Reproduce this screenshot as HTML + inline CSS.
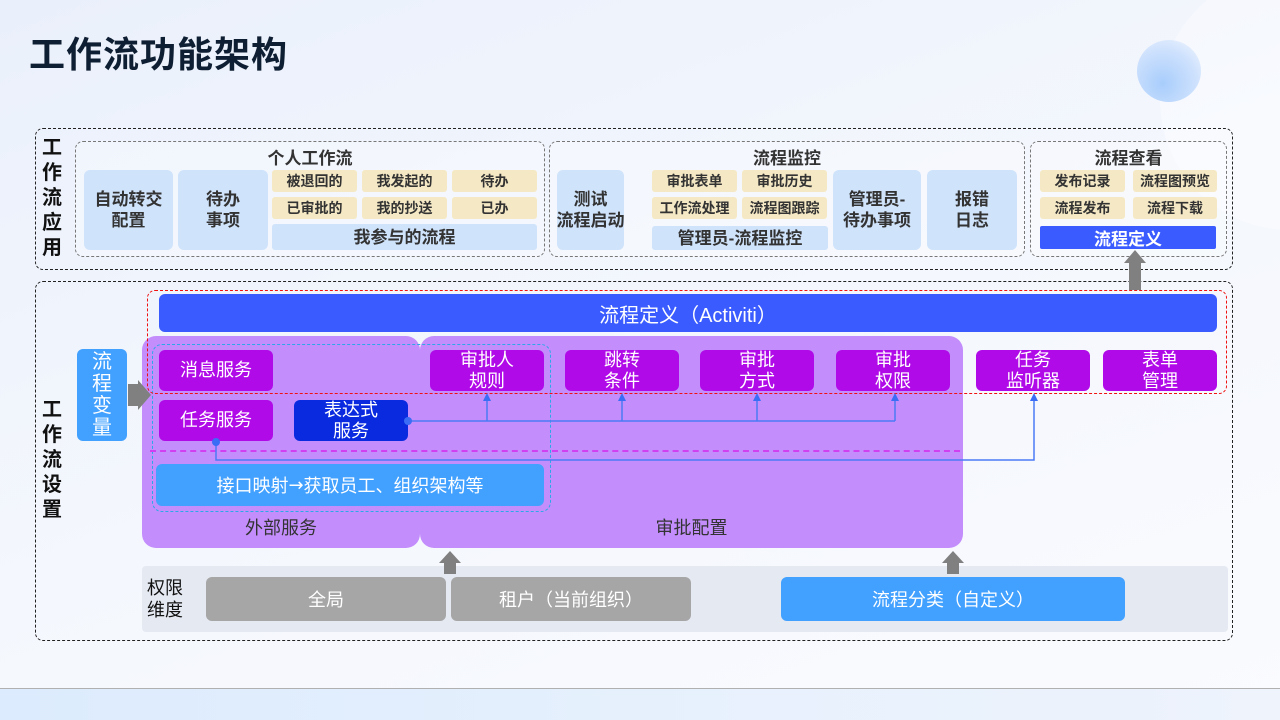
<!DOCTYPE html>
<html><head><meta charset="utf-8">
<style>
*{margin:0;padding:0;box-sizing:border-box}
body{width:1280px;height:720px;position:relative;overflow:hidden;font-family:"Liberation Sans","Noto Sans CJK SC",sans-serif;background:linear-gradient(160deg,#eaf0fb 0%,#f4f7fd 50%,#fafbfe 100%)}
.a{position:absolute}
.c{position:absolute;display:flex;align-items:center;justify-content:center;text-align:center;white-space:nowrap}
.lb{background:#cfe3fb;border-radius:6px;font-weight:bold;font-size:17px;color:#333;line-height:21px}
.y{background:#f5e9c5;border-radius:3px;font-size:14px;color:#333;font-weight:bold}
.g{border:1px dashed #777;border-radius:8px;background:rgba(255,255,255,0.25)}
.gt{position:absolute;font-weight:bold;font-size:17px;color:#333;text-align:center}
.p{background:#b10ae8;border-radius:6px;color:#fff;font-size:18px;line-height:21px}
</style></head><body>
<div class="a" style="left:1160px;top:-30px;width:260px;height:260px;border-radius:50%;background:rgba(255,255,255,0.35)"></div>
<div class="a" style="left:1137px;top:40px;width:64px;height:62px;border-radius:50%;background:radial-gradient(circle at 40% 70%,#a8cdfc,#cfe2fd 60%,rgba(220,234,253,0) 100%)"></div>
<div class="a" style="left:29px;top:26px;font-size:36px;font-weight:bold;color:#0f1f33;letter-spacing:1px">工作流功能架构</div>

<!-- top outer -->
<div class="a" style="left:35px;top:128px;width:1198px;height:142px;border:1px dashed #222;border-radius:8px"></div>
<div class="a" style="left:40px;top:136px;width:24px;font-size:20px;font-weight:bold;line-height:25px;text-align:center;color:#111">工作流应用</div>

<div class="a g" style="left:75px;top:141px;width:470px;height:116px"></div>
<div class="gt" style="left:75px;top:144px;width:470px">个人工作流</div>
<div class="c lb" style="left:84px;top:170px;width:89px;height:80px">自动转交<br>配置</div>
<div class="c lb" style="left:178px;top:170px;width:90px;height:80px">待办<br>事项</div>
<div class="c y" style="left:272px;top:170px;width:85px;height:22px">被退回的</div>
<div class="c y" style="left:362px;top:170px;width:85px;height:22px">我发起的</div>
<div class="c y" style="left:452px;top:170px;width:85px;height:22px">待办</div>
<div class="c y" style="left:272px;top:197px;width:85px;height:22px">已审批的</div>
<div class="c y" style="left:362px;top:197px;width:85px;height:22px">我的抄送</div>
<div class="c y" style="left:452px;top:197px;width:85px;height:22px">已办</div>
<div class="c lb" style="left:272px;top:224px;width:265px;height:26px;border-radius:3px">我参与的流程</div>

<div class="a g" style="left:549px;top:141px;width:476px;height:116px"></div>
<div class="gt" style="left:549px;top:144px;width:476px">流程监控</div>
<div class="c lb" style="left:557px;top:170px;width:67px;height:80px">测试<br>流程启动</div>
<div class="c y" style="left:652px;top:170px;width:85px;height:22px">审批表单</div>
<div class="c y" style="left:742px;top:170px;width:85px;height:22px">审批历史</div>
<div class="c y" style="left:652px;top:197px;width:85px;height:22px">工作流处理</div>
<div class="c y" style="left:742px;top:197px;width:85px;height:22px">流程图跟踪</div>
<div class="c lb" style="left:652px;top:226px;width:176px;height:24px;border-radius:3px">管理员-流程监控</div>
<div class="c lb" style="left:833px;top:170px;width:88px;height:80px">管理员-<br>待办事项</div>
<div class="c lb" style="left:927px;top:170px;width:90px;height:80px">报错<br>日志</div>

<div class="a g" style="left:1030px;top:141px;width:197px;height:116px"></div>
<div class="gt" style="left:1030px;top:144px;width:197px">流程查看</div>
<div class="c y" style="left:1040px;top:170px;width:85px;height:22px">发布记录</div>
<div class="c y" style="left:1133px;top:170px;width:84px;height:22px">流程图预览</div>
<div class="c y" style="left:1040px;top:197px;width:85px;height:22px">流程发布</div>
<div class="c y" style="left:1133px;top:197px;width:84px;height:22px">流程下载</div>
<div class="c" style="left:1040px;top:226px;width:176px;height:23px;background:#3a5bff;color:#fff;font-weight:bold;font-size:17px;border-radius:2px">流程定义</div>

<!-- bottom outer -->
<div class="a" style="left:35px;top:281px;width:1198px;height:360px;border:1px dashed #222;border-radius:8px"></div>
<div class="a" style="left:40px;top:398px;width:24px;font-size:20px;font-weight:bold;line-height:25px;text-align:center;color:#111">工作流设置</div>

<div class="c" style="left:159px;top:294px;width:1058px;height:38px;background:#3a5bff;color:#fff;font-size:20px;border-radius:6px">流程定义（Activiti）</div>
<div class="a" style="left:142px;top:336px;width:278px;height:212px;background:#c38efc;border-radius:14px"></div>
<div class="a" style="left:420px;top:336px;width:543px;height:212px;background:#c38efc;border-radius:14px"></div>
<div class="a" style="left:152px;top:344px;width:399px;height:168px;border:1px dashed #2aa8e8;border-radius:10px"></div>
<div class="a" style="left:150px;top:450px;width:810px;border-top:2px dashed #d040f0"></div>

<div class="c p" style="left:159px;top:350px;width:114px;height:41px">消息服务</div>
<div class="c p" style="left:159px;top:400px;width:114px;height:41px">任务服务</div>
<div class="c p" style="left:294px;top:400px;width:114px;height:41px;background:#0a2ae0">表达式<br>服务</div>
<div class="c p" style="left:430px;top:350px;width:114px;height:41px">审批人<br>规则</div>
<div class="c p" style="left:565px;top:350px;width:114px;height:41px">跳转<br>条件</div>
<div class="c p" style="left:700px;top:350px;width:114px;height:41px">审批<br>方式</div>
<div class="c p" style="left:836px;top:350px;width:114px;height:41px">审批<br>权限</div>
<div class="c p" style="left:976px;top:350px;width:114px;height:41px">任务<br>监听器</div>
<div class="c p" style="left:1103px;top:350px;width:114px;height:41px">表单<br>管理</div>

<div class="c" style="left:156px;top:464px;width:388px;height:42px;background:#42a0ff;color:#fff;font-size:18px;border-radius:6px">接口映射<span style="font-family:'DejaVu Sans',sans-serif">→</span>获取员工、组织架构等</div>
<div class="a" style="left:142px;top:514px;width:278px;text-align:center;font-size:18px;color:#333">外部服务</div>
<div class="a" style="left:420px;top:514px;width:543px;text-align:center;font-size:18px;color:#333">审批配置</div>

<div class="a" style="left:147px;top:290px;width:1080px;height:104px;border:1px dashed #f01010;border-radius:8px"></div>

<div class="c" style="left:77px;top:349px;width:50px;height:92px;background:#42a0ff;color:#fff;font-size:20px;line-height:22px;border-radius:6px">流<br>程<br>变<br>量</div>

<div class="a" style="left:142px;top:566px;width:1086px;height:66px;background:#e5e9f2;border-radius:4px"></div>

<svg class="a" style="left:0;top:0" width="1280" height="720">
<g stroke="#4a7af5" stroke-width="1.5" fill="none">
<path d="M408,421 H895"/>
<path d="M487,421 V400"/>
<path d="M622,421 V400"/>
<path d="M757,421 V400"/>
<path d="M895,421 V400"/>
<path d="M216,442 V460 H1034 V400"/>
</g>
<g fill="#3a6cf5">
<path d="M483,401 L487,393 L491,401 Z"/>
<path d="M618,401 L622,393 L626,401 Z"/>
<path d="M753,401 L757,393 L761,401 Z"/>
<path d="M891,401 L895,393 L899,401 Z"/>
<path d="M1030,401 L1034,393 L1038,401 Z"/>
</g>
<circle cx="408" cy="421" r="4" fill="#3a6cf5"/>
<circle cx="216" cy="442" r="4" fill="#3a6cf5"/>
<g fill="#808080">
<path d="M128,384 H138 V380 L151,395 L138,410 V406 H128 Z"/>
<path d="M1129,290 V263 H1124 L1135,250 L1146,263 H1141 V290 Z"/>
<path d="M444,574 V563 H439 L450,551 L461,563 H456 V574 Z"/>
<path d="M947,574 V563 H942 L953,551 L964,563 H959 V574 Z"/>
</g>
</svg>

<div class="a" style="left:147px;top:577px;font-size:18px;line-height:22px;color:#111">权限<br>维度</div>
<div class="c" style="left:206px;top:577px;width:240px;height:44px;background:#a6a6a6;color:#fff;font-size:18px;border-radius:6px">全局</div>
<div class="c" style="left:451px;top:577px;width:240px;height:44px;background:#a6a6a6;color:#fff;font-size:18px;border-radius:6px">租户（当前组织）</div>
<div class="c" style="left:781px;top:577px;width:344px;height:44px;background:#42a0ff;color:#fff;font-size:18px;border-radius:6px">流程分类（自定义）</div>

<div class="a" style="left:0;top:688px;width:1280px;height:1px;background:#b0b0b0"></div>
<div class="a" style="left:0;top:689px;width:1280px;height:31px;background:linear-gradient(90deg,#dcebfd,#e8f1fd 60%,#eef3fc)"></div>
</body></html>
